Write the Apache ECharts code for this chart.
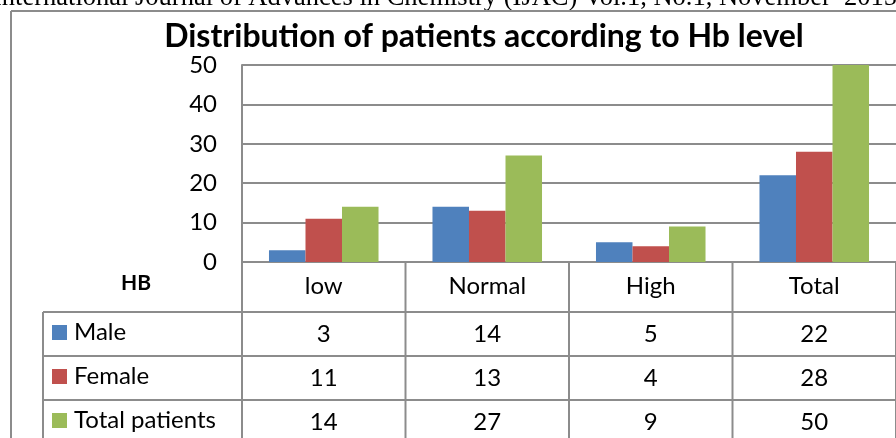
<!DOCTYPE html>
<html>
<head>
<meta charset="utf-8">
<script src="https://cdn.jsdelivr.net/npm/echarts@6/dist/echarts.min.js"></script>
<style>
  html, body { margin: 0; padding: 0; background: #fff; }
  #chart { width: 896px; height: 438px; }
</style>
</head>
<body>
<div id="chart"></div>
<script>
// data
const categories = ['low', 'Normal', 'High', 'Total'];
const seriesNames = ['Male', 'Female', 'Total patients'];
const male = [3, 14, 5, 22];
const female = [11, 13, 4, 28];
const totalPatients = [14, 27, 9, 50];
const colors = ['#4F81BD', '#C0504D', '#9BBB59'];
const chartTitle = 'Distribution of patients according to Hb level';
const pageHeader = 'International Journal of Advances in Chemistry (IJAC) Vol.1, No.1, November  2015';

const font = 'Lato, "Open Sans", sans-serif';
const lineColor = '#8c8c8c';

const chart = echarts.init(document.getElementById('chart'), null, { renderer: 'canvas' });

const option = {
  animation: false,
  backgroundColor: '#fff',
  grid: { left: 242, top: 65, right: -2, bottom: 176, containLabel: false },
  xAxis: {
    type: 'category',
    data: categories,
    axisLine: { lineStyle: { color: lineColor, width: 2 } },
    axisTick: { show: false },
    axisLabel: { color: '#000', fontSize: 24, fontFamily: font, margin: 12 }
  },
  yAxis: {
    type: 'value',
    min: 0,
    max: 50,
    interval: 10,
    axisLine: { show: true, lineStyle: { color: lineColor, width: 2 } },
    axisTick: { show: false },
    axisLabel: { color: '#000', fontSize: 24, fontFamily: font, margin: 25 },
    splitLine: { lineStyle: { color: lineColor, width: 2 } }
  },
  series: [
    { name: seriesNames[0], type: 'bar', data: male, barGap: '0%', barCategoryGap: '33%', itemStyle: { color: colors[0] } },
    { name: seriesNames[1], type: 'bar', data: female, itemStyle: { color: colors[1] } },
    { name: seriesNames[2], type: 'bar', data: totalPatients, itemStyle: { color: colors[2] } }
  ]
};

chart.setOption(option);

// 表格部分：按坐标轴换算列边界
const rows = [male, female, totalPatients];
const c0 = chart.convertToPixel({ xAxisIndex: 0 }, categories[0]);
const c1 = chart.convertToPixel({ xAxisIndex: 0 }, categories[1]);
const band = c1 - c0;
const y0 = chart.convertToPixel({ yAxisIndex: 0 }, 0);
const colLeft = c0 - band / 2;
const headerBottom = 312;
const rowH = 44;
const tableLeft = 43;

const elements = [];
const line = (x1, y1, x2, y2) => elements.push({
  type: 'line',
  shape: { x1, y1, x2, y2 },
  style: { stroke: lineColor, lineWidth: 2 },
  z: 10
});

// 外框
line(11, 11, 900, 11);
line(11, 11, 11, 440);
// 纵轴延伸到表格底部
line(colLeft, y0, colLeft, 440);
// 列分隔线
for (let i = 1; i <= categories.length; i++) {
  const x = colLeft + band * i;
  line(x, y0, x, 440);
}
// 横线
for (let r = 0; r < rows.length; r++) {
  const y = headerBottom + rowH * r;
  line(tableLeft, y, 900, y);
}
line(tableLeft, headerBottom, tableLeft, 440);

// 标题和页眉（页眉只露出下半截）
elements.push({
  type: 'text', x: 484, y: 37,
  style: { text: chartTitle, font: 'bold 32px ' + font, fill: '#000', align: 'center', verticalAlign: 'middle' }
});
elements.push({
  type: 'text', x: -7, y: 12,
  style: { text: pageHeader, font: '26.5px "Liberation Serif", "Times New Roman", serif', fill: '#000', align: 'left', verticalAlign: 'bottom' }
});
elements.push({
  type: 'text', x: 136, y: 283,
  style: { text: 'HB', font: 'bold 21px ' + font, fill: '#000', align: 'center', verticalAlign: 'middle' }
});

// 每行：图例色块 + 名称 + 数值
rows.forEach((vals, r) => {
  const cy = headerBottom + rowH * r + rowH / 2;
  elements.push({
    type: 'rect', shape: { x: 52, y: cy - 9, width: 15, height: 15 },
    style: { fill: colors[r] }
  });
  elements.push({
    type: 'text', x: 74, y: cy - 2,
    style: { text: seriesNames[r], font: '24px ' + font, fill: '#000', align: 'left', verticalAlign: 'middle' }
  });
  vals.forEach((v, i) => {
    elements.push({
      type: 'text', x: colLeft + band * (i + 0.5), y: cy,
      style: { text: String(v), font: '24px ' + font, fill: '#000', align: 'center', verticalAlign: 'middle' }
    });
  });
});

chart.setOption({ graphic: { elements } });
</script>
</body>
</html>
